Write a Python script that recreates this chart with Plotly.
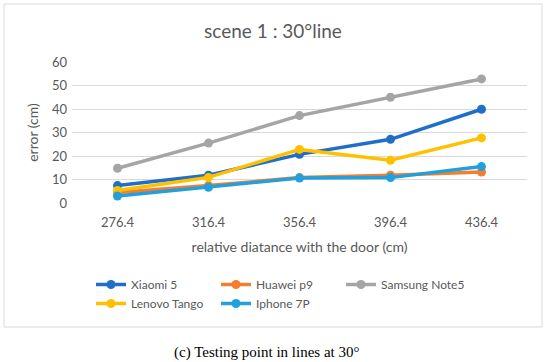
import plotly.graph_objects as go

categories = ["276.4", "316.4", "356.4", "396.4", "436.4"]
xiaomi = [7.4, 11.8, 20.7, 27.1, 39.9]
huawei = [4.5, 7.4, 10.8, 11.8, 13.2]
samsung = [14.8, 25.5, 37.2, 45.0, 52.8]
lenovo = [5.3, 10.9, 22.8, 18.2, 27.7]
iphone = [3.0, 6.7, 10.6, 10.8, 15.5]

series = [
    ("Xiaomi 5", xiaomi, "#1F6FC8"),
    ("Huawei p9", huawei, "#F47E30"),
    ("Samsung Note5", samsung, "#A5A5A5"),
    ("Lenovo Tango", lenovo, "#FFC000"),
    ("Iphone 7P", iphone, "#22A0DC"),
]

fig = go.Figure()
for name, vals, col in series:
    fig.add_trace(go.Scatter(
        x=categories, y=vals, name=name, mode="lines+markers",
        line=dict(color=col, width=3.5),
        marker=dict(color=col, size=9, symbol="circle"),
    ))

L, R, T, B = 72, 23, 62, 159
W, H = 550, 362
pw, ph = W - L - R, H - T - B

def px(x):
    return (x - L) / pw

def py(y):
    return (H - B - y) / ph

fig.update_layout(
    width=W, height=H,
    margin=dict(l=L, r=R, t=T, b=B, pad=0),
    paper_bgcolor="white", plot_bgcolor="white",
    font=dict(family="Lato, Open Sans, sans-serif", color="#595959", size=12),
    title=dict(text="scene 1 : 30°line", x=px(273), xref="paper", xanchor="center",
               y=1 - 31 / H, yanchor="middle",
               font=dict(size=19, color="#595959")),
    showlegend=True,
    legend=dict(orientation="h", x=px(91), xanchor="left", y=py(270), yanchor="top",
                entrywidth=80, entrywidthmode="pixels", tracegroupgap=0,
                font=dict(size=12, color="#595959"), itemwidth=30),
    xaxis=dict(type="category", showgrid=False, showline=False, zeroline=False,
               ticks="", tickfont=dict(size=13, color="#595959"),
               ticklabelstandoff=10,
               range=[-0.5, 4.5],
               title=dict(text="relative diatance with the door (cm)",
                          font=dict(size=14, color="#595959"), standoff=13)),
    yaxis=dict(range=[0, 60], dtick=10, showgrid=True, gridcolor="#D9D9D9",
               gridwidth=1, zeroline=False, showline=False, ticks="",
               tickfont=dict(size=13, color="#595959"),
               ticklabelstandoff=4,
               title=dict(text="error (cm)", font=dict(size=14, color="#595959"),
                          standoff=10)),
    shapes=[dict(type="rect", xref="paper", yref="paper",
                 x0=px(4), x1=px(542), y0=py(327), y1=py(4),
                 line=dict(color="#D9D9D9", width=1), layer="below")],
    annotations=[dict(text="(c) Testing point in lines at 30°", xref="paper", yref="paper",
                      x=px(266), y=py(352), xanchor="center", yanchor="middle",
                      showarrow=False,
                      font=dict(family="Liberation Serif, DejaVu Serif, serif",
                                size=15, color="#000000"))],
)

fig.write_html("out.html", config={"displayModeBar": False},
               post_script="document.body.style.margin='0px';")
